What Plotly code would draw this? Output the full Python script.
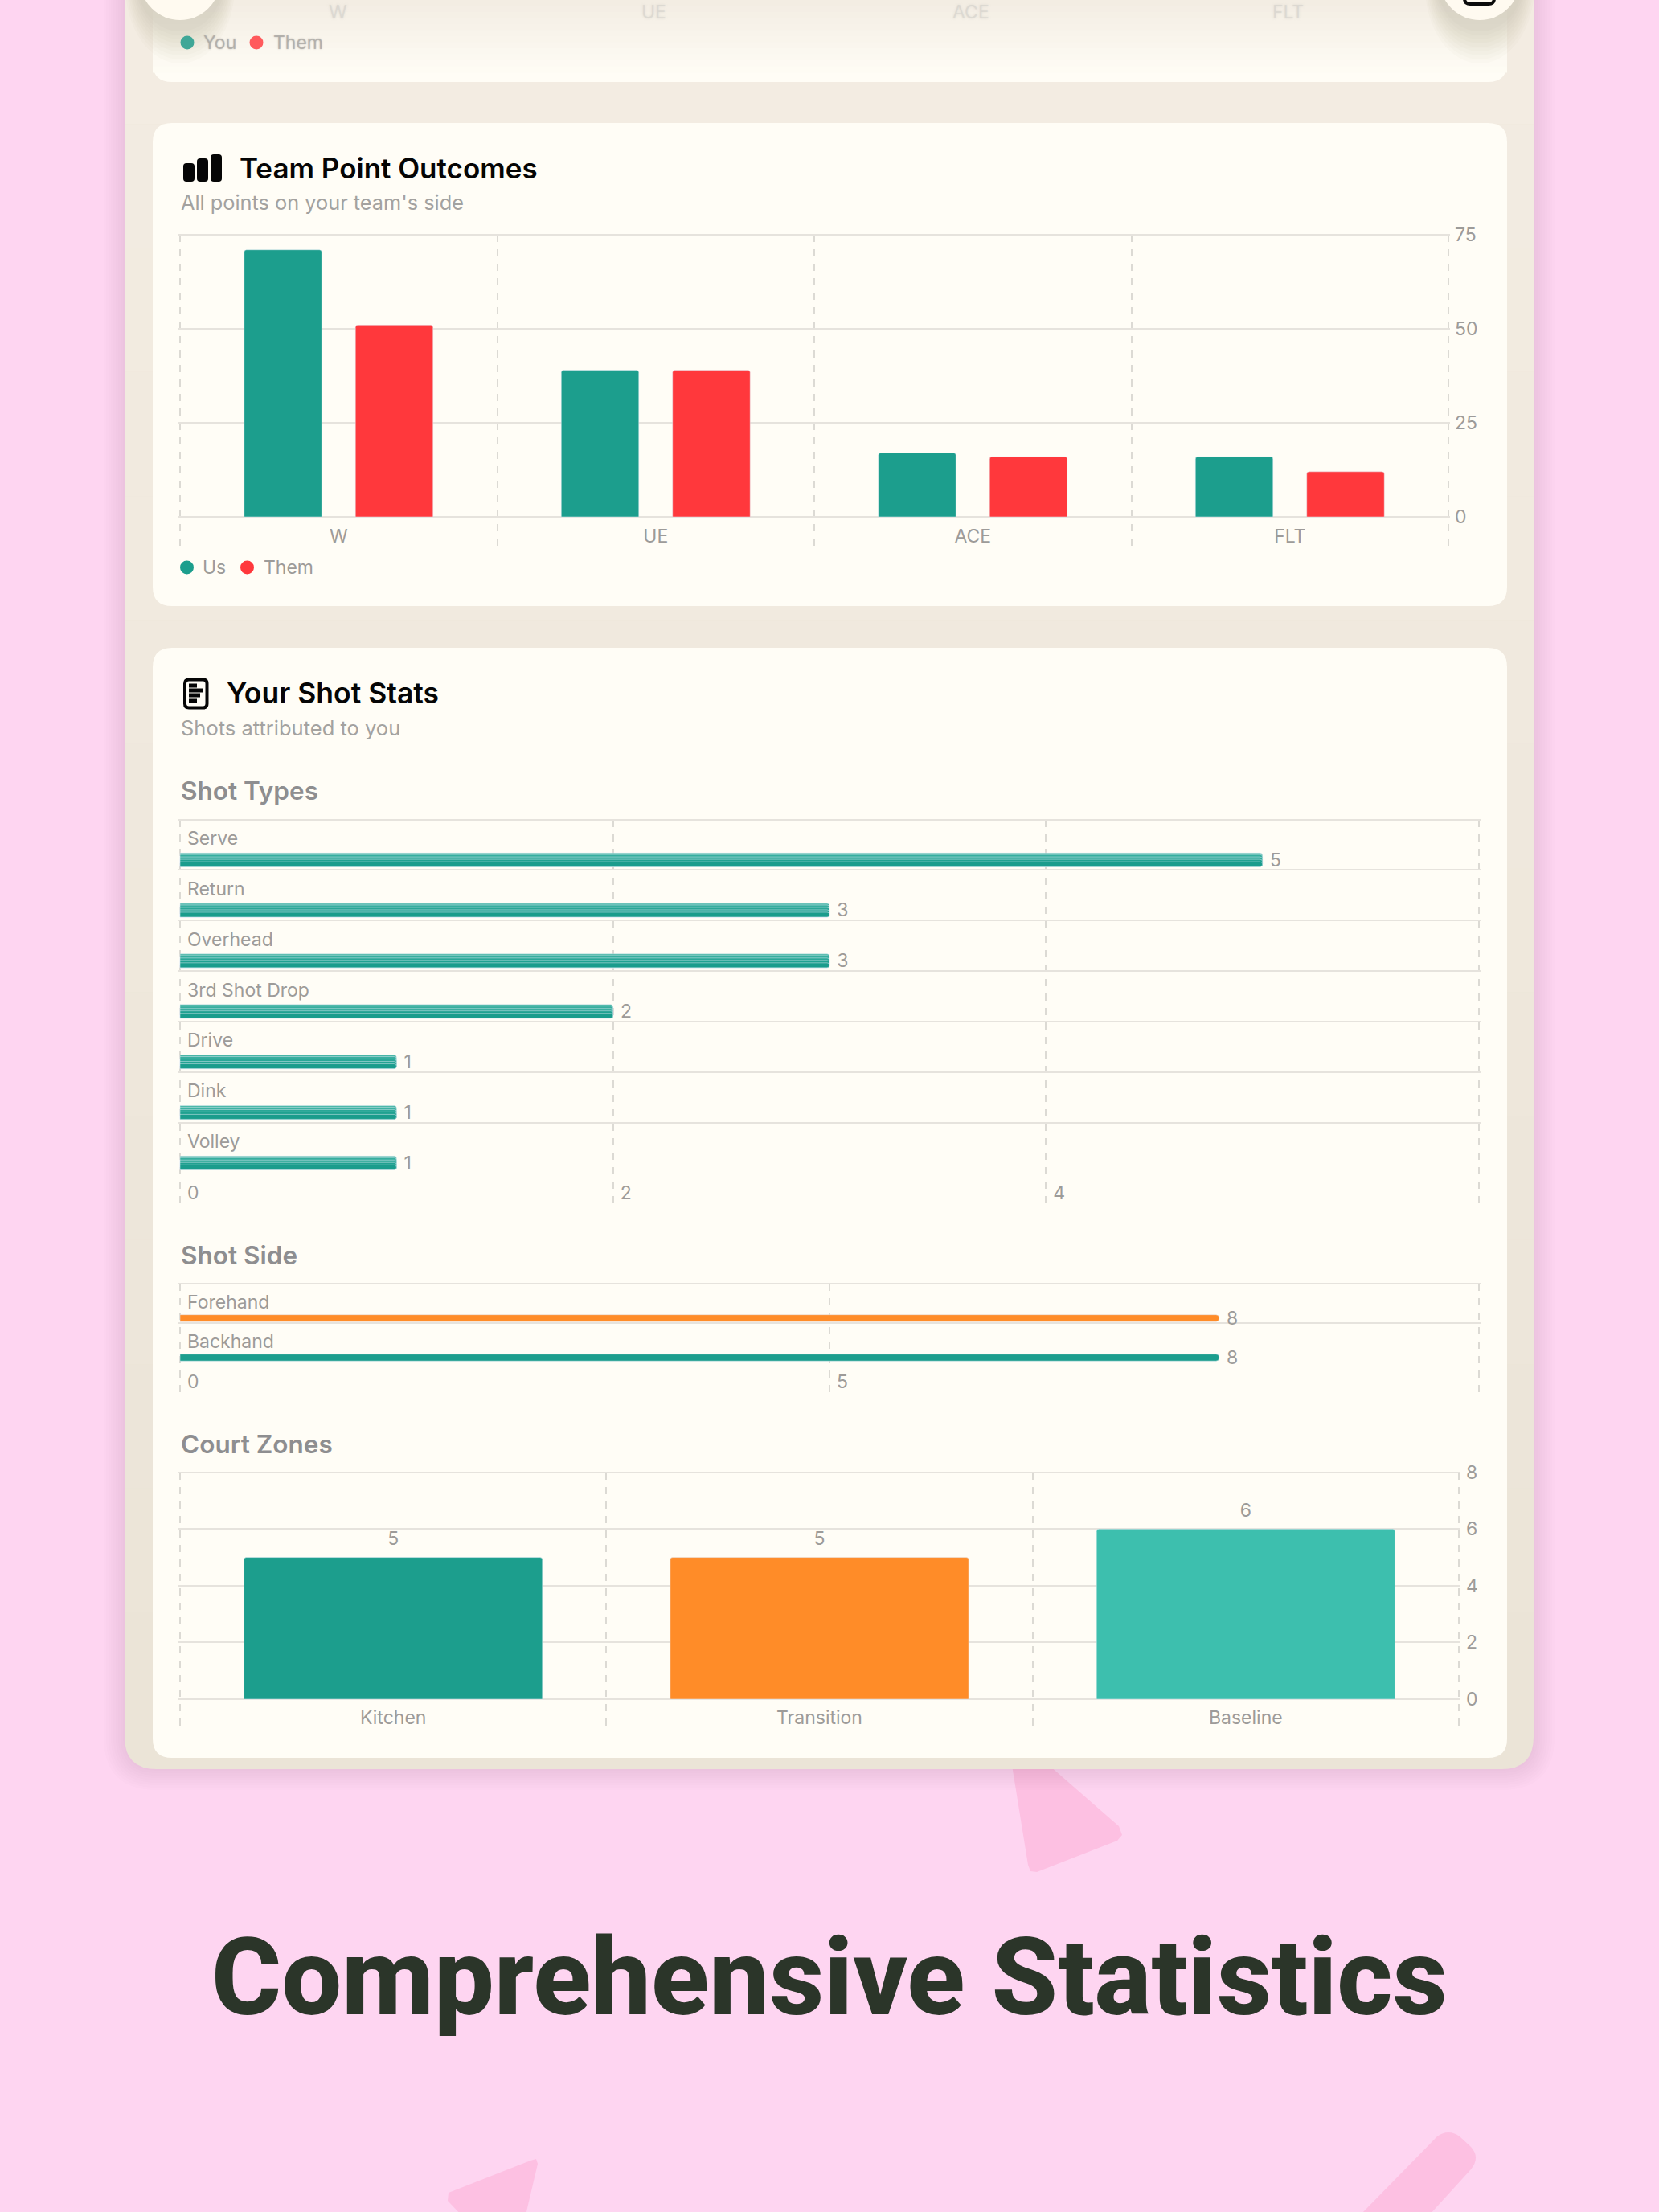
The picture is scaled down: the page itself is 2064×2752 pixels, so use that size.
import plotly.graph_objects as go

# Canvas size in pixels
W, H = 2064, 2752

# Team point outcomes
OUTCOME_CATEGORIES = ["W", "UE", "ACE", "FLT"]
OUTCOME_US = [71, 39, 17, 16]
OUTCOME_THEM = [51, 39, 16, 12]
OUTCOME_TICKS = [0, 25, 50, 75]

# Shot types
SHOT_TYPES = ["Serve", "Return", "Overhead", "3rd Shot Drop", "Drive", "Dink", "Volley"]
SHOT_COUNTS = [5, 3, 3, 2, 1, 1, 1]
SHOT_TICKS = [0, 2, 4, 6]
SHOT_TICK_TEXT = ["0", "2", "4", ""]

# Shot side
SIDES = ["Forehand", "Backhand"]
SIDE_COUNTS = [8, 8]
SIDE_COLORS = ["#ff8c28", "#1c9e8d"]
SIDE_TICKS = [0, 5, 10]
SIDE_TICK_TEXT = ["0", "5", ""]

# Court zones
ZONES = ["Kitchen", "Transition", "Baseline"]
ZONE_COUNTS = [5, 5, 6]
ZONE_COLORS = ["#1c9e8d", "#ff8c28", "#3dbfae"]
ZONE_TICKS = [0, 2, 4, 6, 8]

TEAL = "#1c9e8d"
RED = "#ff383c"
CARD = "#fffdf6"
FRAME_TOP = (243, 236, 226)
FRAME_BOTTOM = (235, 228, 215)
PINK = "#fed5f1"
DECOR = "#fdc0e2"
GRID = "#e6e3dd"
GRID_V = "#dcdad4"
MUTED = "#9d9b99"
FONT = "Inter"
DASH = "9px,9px"
EDGE = 2  # pixels of slack so the outermost grid lines stay inside the plot area


def fx(x):
    return x / W


def fy(y):
    return 1 - y / H


def rounded(x0, y0, x1, y1, r):
    """SVG path of a rounded rectangle, in paper coordinates."""
    rx, ry = r / W, r / H
    a, b, c, d = fx(x0), fy(y0), fx(x1), fy(y1)
    return (
        f"M{a + rx},{b} L{c - rx},{b} Q{c},{b} {c},{b - ry} L{c},{d + ry} "
        f"Q{c},{d} {c - rx},{d} L{a + rx},{d} Q{a},{d} {a},{d + ry} "
        f"L{a},{b - ry} Q{a},{b} {a + rx},{b} Z"
    )


def polygon(points):
    return "M" + " L".join(f"{fx(x)},{fy(y)}" for x, y in points) + " Z"


shapes = []


def add_path(path, color, line=None, line_width=0):
    shapes.append(dict(
        type="path", xref="paper", yref="paper", path=path, fillcolor=color,
        line=dict(color=line or "rgba(0,0,0,0)", width=line_width), layer="below",
    ))


def add_rect(x0, y0, x1, y1, color):
    shapes.append(dict(
        type="rect", xref="paper", yref="paper", x0=fx(x0), x1=fx(x1), y0=fy(y0), y1=fy(y1),
        fillcolor=color, line=dict(width=0), layer="below",
    ))


def add_oval(cx, cy, rx, ry, color):
    shapes.append(dict(
        type="circle", xref="paper", yref="paper", x0=fx(cx - rx), x1=fx(cx + rx),
        y0=fy(cy + ry), y1=fy(cy - ry), fillcolor=color, line=dict(width=0), layer="below",
    ))


# Confetti behind the device
add_path(polygon([(1258, 2190), (1298, 2190), (1392, 2272), (1396, 2283), (1390, 2290),
                  (1290, 2329), (1282, 2328), (1279, 2320)]), DECOR)
add_path(polygon([(660, 2688), (667, 2686), (669, 2692), (653, 2760), (578, 2760),
                  (557, 2738), (558, 2728)]), DECOR)
add_path(
    f"M{fx(1692)},{fy(2756)} L{fx(1788)},{fy(2658)} Q{fx(1802)},{fy(2648)} {fx(1816)},{fy(2658)} "
    f"L{fx(1830)},{fy(2671)} Q{fx(1842)},{fy(2684)} {fx(1830)},{fy(2699)} L{fx(1778)},{fy(2756)} Z",
    DECOR,
)

# Soft shadow under the device frame
for grow in range(26, 0, -3):
    add_path(rounded(155 - grow, -60, 1908 + grow, 2201 + grow, 40 + grow), "rgba(120,60,100,0.012)")

# Device frame, shaded from top to bottom
add_path(rounded(155, -60, 1908, 2201, 40), "rgb(%d,%d,%d)" % FRAME_BOTTOM)
BANDS = 14
for i in range(BANDS):
    t = i / (BANDS - 1)
    col = tuple(round(a + (b - a) * t) for a, b in zip(FRAME_TOP, FRAME_BOTTOM))
    add_rect(155, 2160 * i / BANDS, 1908, 2160 * (i + 1) / BANDS, "rgb(%d,%d,%d)" % col)

# Cards
add_path(rounded(190, -60, 1875, 102, 24), CARD)
add_path(rounded(190, 153, 1875, 754, 24), CARD)
add_path(rounded(190, 806, 1875, 2187, 24), CARD)

# Haze over the card that scrolls under the top bar
for i in range(12):
    t = i / 12
    col = tuple(round(a + (b - a) * t) for a, b in zip((243, 237, 227), (255, 253, 246)))
    add_rect(190, i * 7.5, 1875, (i + 1) * 7.5 + 0.5, "rgb(%d,%d,%d)" % col)

# Floating round buttons and their shadows
for cx in (224, 1841):
    for k in range(9):
        add_oval(cx, -17, 68 - k * 2, 96 - k * 5, "rgba(120,115,100,0.022)")
    add_oval(cx, -25, 50, 50, "#fffaf0")
add_path(rounded(1822, -20, 1859, 5, 7), "rgba(0,0,0,0)", "#0b0b0b", 4)

# Bar-chart glyph beside the first heading
for x0, top in zip((228, 245, 262), (203, 197, 192)):
    add_path(rounded(x0, top, x0 + 14, 226, 4), "#060606")

# Document glyph beside the second heading
add_path(rounded(230, 845.5, 257.5, 880.5, 5), "rgba(0,0,0,0)", "#060606", 4)
for y0, x1 in zip((850.5, 856.5, 862.5, 869.5), (245, 252, 249, 245)):
    add_rect(235, y0, x1, y0 + 5, "#060606")

# Legend dots
for cx, color in zip((233, 319), ("#3fa797", "#ff5a5c")):
    add_oval(cx, 53, 8.5, 8.5, color)
for cx, color in zip((232.5, 307.5), (TEAL, RED)):
    add_oval(cx, 706, 8.5, 8.5, color)

annotations = []


def label(x, y, text, size=23, color=MUTED, weight=400, anchor="left", family=FONT, shadow=None):
    font = dict(family=family, size=size, color=color, weight=weight)
    if shadow:
        font["shadow"] = shadow
    annotations.append(dict(
        xref="paper", yref="paper", x=fx(x), y=fy(y), text=text, showarrow=False,
        xanchor=anchor, yanchor="middle", font=font, borderpad=0,
    ))


BLUR_FAINT = "0 0 3px #cfccc6"
BLUR_SOFT = "0 0 2px #a9a7a3"
for x, text in zip((420, 813, 1208, 1602), OUTCOME_CATEGORIES):
    label(x, 15, text, color="rgba(210,208,202,0.55)", anchor="center", shadow=BLUR_FAINT)
label(252, 53, "You", color="rgba(165,163,159,0.7)", shadow=BLUR_SOFT)
label(339, 53, "Them", color="rgba(165,163,159,0.7)", shadow=BLUR_SOFT)

label(297, 209, "Team Point Outcomes", size=35, color="#050505", weight=600)
label(224, 251, "All points on your team's side", size=25.3, color="#a3a2a0")
label(251, 706, "Us")
label(327, 706, "Them")
label(281, 863, "Your Shot Stats", size=35.5, color="#050505", weight=600)
label(224, 906, "Shots attributed to you", size=25.5, color="#a3a2a0")
label(224, 984, "Shot Types", size=31.5, color="#8e8e90", weight=600)
label(224, 1561, "Shot Side", size=31.5, color="#8e8e90", weight=600)
label(224, 1796, "Court Zones", size=31.5, color="#8e8e90", weight=600)
label(1032, 2460, "Comprehensive Statistics", size=133, color="#2b3529", weight=800,
      anchor="center", family="Roboto")

tick_font = dict(family=FONT, size=23, color=MUTED)
data = []

# Dashed vertical grids live on their own taller subplots, numbered first so they sit under the bars
for ax_x, ax_y in (("x", "y"), ("x2", "y2"), ("x3", "y3"), ("x4", "y4")):
    data.append(go.Scatter(x=[None], y=[None], xaxis=ax_x, yaxis=ax_y, hoverinfo="skip"))

# Team point outcomes: grouped columns
data.append(go.Bar(name="Us", x=OUTCOME_CATEGORIES, y=OUTCOME_US, marker=dict(color=TEAL, cornerradius=3),
                   xaxis="x5", yaxis="y5"))
data.append(go.Bar(name="Them", x=OUTCOME_CATEGORIES, y=OUTCOME_THEM, marker=dict(color=RED, cornerradius=3),
                   xaxis="x5", yaxis="y5"))

# Shot types: thin rows, nested so the colour deepens from the top edge down
ROW_H = 62.86
BAR_TOP = 10.2
BAR_H = 17
SHADES = ("#45b5a5", "#36ae9e", "#2aa797", "#20a191", "#1a9c8c")
INSETS = (0, 2, 5, 8, 11)
for step, (shade, inset) in enumerate(zip(SHADES, INSETS)):
    trace = dict(
        name="Shots", orientation="h", x=SHOT_COUNTS, y=SHOT_TYPES, xaxis="x6", yaxis="y6",
        width=(BAR_H - inset) / ROW_H, offset=(BAR_TOP + inset) / ROW_H,
        marker=dict(color=shade, cornerradius=3),
    )
    if step == 0:
        trace.update(texttemplate="\u2009\u200a%{x}", textposition="outside", cliponaxis=False,
                     outsidetextfont=tick_font, constraintext="none")
    else:
        trace.update(hoverinfo="skip")
    data.append(go.Bar(**trace))

# Shot side: two thin rows
SIDE_ROW = 49
data.append(go.Bar(
    name="Side", orientation="h", x=SIDE_COUNTS, y=SIDES, xaxis="x7", yaxis="y7",
    width=8.5 / SIDE_ROW, offset=14.5 / SIDE_ROW, marker=dict(color=SIDE_COLORS, cornerradius=4),
    texttemplate="\u2009\u200a%{x}", textposition="outside", cliponaxis=False,
    outsidetextfont=tick_font, constraintext="none",
))

# Court zones: one column per zone, value floating above
data.append(go.Bar(name="Zones", x=ZONES, y=ZONE_COUNTS, xaxis="x8", yaxis="y8",
                   marker=dict(color=ZONE_COLORS, cornerradius=3), width=0.7))
data.append(go.Scatter(
    x=ZONES, y=ZONE_COUNTS, text=[str(v) for v in ZONE_COUNTS], mode="markers+text",
    textposition="top center", textfont=tick_font, marker=dict(size=14, opacity=0),
    xaxis="x8", yaxis="y8", hoverinfo="skip", cliponaxis=False,
))


def xdom(a, b):
    return [fx(a), fx(b)]


def ydom(top, bottom):
    return [fy(bottom), fy(top)]


def dashed_grid(left, right, lo, hi, tickvals, anchor, **kw):
    """Numeric x axis that draws the dashed vertical lines."""
    unit = (right - left) / (hi - lo)
    base = dict(
        domain=xdom(left - EDGE, right + EDGE), anchor=anchor,
        range=[lo - EDGE / unit, hi + EDGE / unit], tickmode="array", tickvals=tickvals,
        showgrid=True, griddash=DASH, gridcolor=GRID_V, gridwidth=1.6, zeroline=False,
        showline=False, ticks="", showticklabels=False, automargin=False, fixedrange=True,
    )
    base.update(kw)
    return base


def hidden_y(top, bottom, anchor):
    return dict(domain=ydom(top, bottom), anchor=anchor, range=[0, 1], visible=False,
                showgrid=False, zeroline=False, automargin=False, fixedrange=True)


def label_x(left, right, lo, hi, anchor, **kw):
    """Value or category x axis for the bars; its grid is off."""
    unit = (right - left) / (hi - lo)
    base = dict(domain=xdom(left - EDGE, right + EDGE), anchor=anchor,
                range=[lo - EDGE / unit, hi + EDGE / unit], showgrid=False, zeroline=False,
                showline=False, ticks="", tickfont=tick_font, automargin=False, fixedrange=True)
    base.update(kw)
    return base


def solid_y(**kw):
    base = dict(showgrid=True, gridcolor=GRID, gridwidth=2, zeroline=False, showline=False,
                ticks="", tickfont=tick_font, automargin=False, fixedrange=True)
    base.update(kw)
    return base


fig = go.Figure(data=data)
fig.update_layout(
    width=W, height=H, autosize=False, margin=dict(l=0, r=0, t=0, b=0, pad=0),
    paper_bgcolor=PINK, plot_bgcolor="rgba(0,0,0,0)", showlegend=False,
    barmode="group", bargap=0.298, bargroupgap=0.303,
    shapes=shapes, annotations=annotations, font=dict(family=FONT),

    xaxis=dashed_grid(224, 1802, -0.5, 3.5, [-0.5, 0.5, 1.5, 2.5, 3.5], "y"),
    yaxis=hidden_y(292, 682, "x"),
    xaxis2=dashed_grid(224, 1840, 0, 6, SHOT_TICKS, "y2", ticktext=SHOT_TICK_TEXT,
                       showticklabels=True, tickfont=tick_font,
                       ticklabelposition="inside right", ticklabelstandoff=-6, ticklabelshift=9),
    yaxis2=hidden_y(1019.5, 1497, "x2"),
    xaxis3=dashed_grid(224, 1840, 0, 10, SIDE_TICKS, "y3", ticktext=SIDE_TICK_TEXT,
                       showticklabels=True, tickfont=tick_font,
                       ticklabelposition="inside right", ticklabelstandoff=-6, ticklabelshift=9),
    yaxis3=hidden_y(1596.7, 1731.7, "x3"),
    xaxis4=dashed_grid(224, 1815, -0.5, 2.5, [-0.5, 0.5, 1.5, 2.5], "y4"),
    yaxis4=hidden_y(1831.7, 2146.7, "x4"),

    xaxis5=label_x(224, 1802, -0.5, 3.5, "y5", type="category", categoryorder="array",
                   categoryarray=OUTCOME_CATEGORIES, ticklabelstandoff=6),
    yaxis5=solid_y(
        domain=ydom(292 - EDGE, 643 + EDGE), anchor="x5", side="right",
        range=[-EDGE / 4.68, 75 + EDGE / 4.68],
        tickmode="array", tickvals=OUTCOME_TICKS, ticklabelstandoff=5,
    ),
    xaxis6=label_x(224, 1840, 0, 6, "y6", showticklabels=False),
    yaxis6=solid_y(
        domain=ydom(1019.5 - EDGE, 1459.5 + EDGE), anchor="x6", type="category",
        categoryorder="array", categoryarray=SHOT_TYPES,
        range=[6.5 + EDGE / ROW_H, -0.5 - EDGE / ROW_H], tickson="boundaries",
        ticklabelposition="inside", ticklabelstandoff=8, ticklabelshift=8,
    ),
    xaxis7=label_x(224, 1840, 0, 10, "y7", showticklabels=False),
    yaxis7=solid_y(
        domain=ydom(1596.7 - EDGE, 1694.7 + EDGE), anchor="x7", type="category",
        categoryorder="array", categoryarray=SIDES,
        range=[1.5 + EDGE / SIDE_ROW, -0.5 - EDGE / SIDE_ROW], tickson="boundaries",
        ticklabelposition="inside", ticklabelstandoff=8, ticklabelshift=1,
    ),
    xaxis8=label_x(224, 1815, -0.5, 2.5, "y8", type="category", categoryorder="array",
                   categoryarray=ZONES, ticklabelstandoff=5),
    yaxis8=solid_y(
        domain=ydom(1831.7 - EDGE, 2114 + EDGE), anchor="x8", side="right",
        range=[-EDGE / 35.3, 8 + EDGE / 35.3],
        tickmode="array", tickvals=ZONE_TICKS, ticklabelstandoff=6,
    ),
)

fig.write_html("out.html")
